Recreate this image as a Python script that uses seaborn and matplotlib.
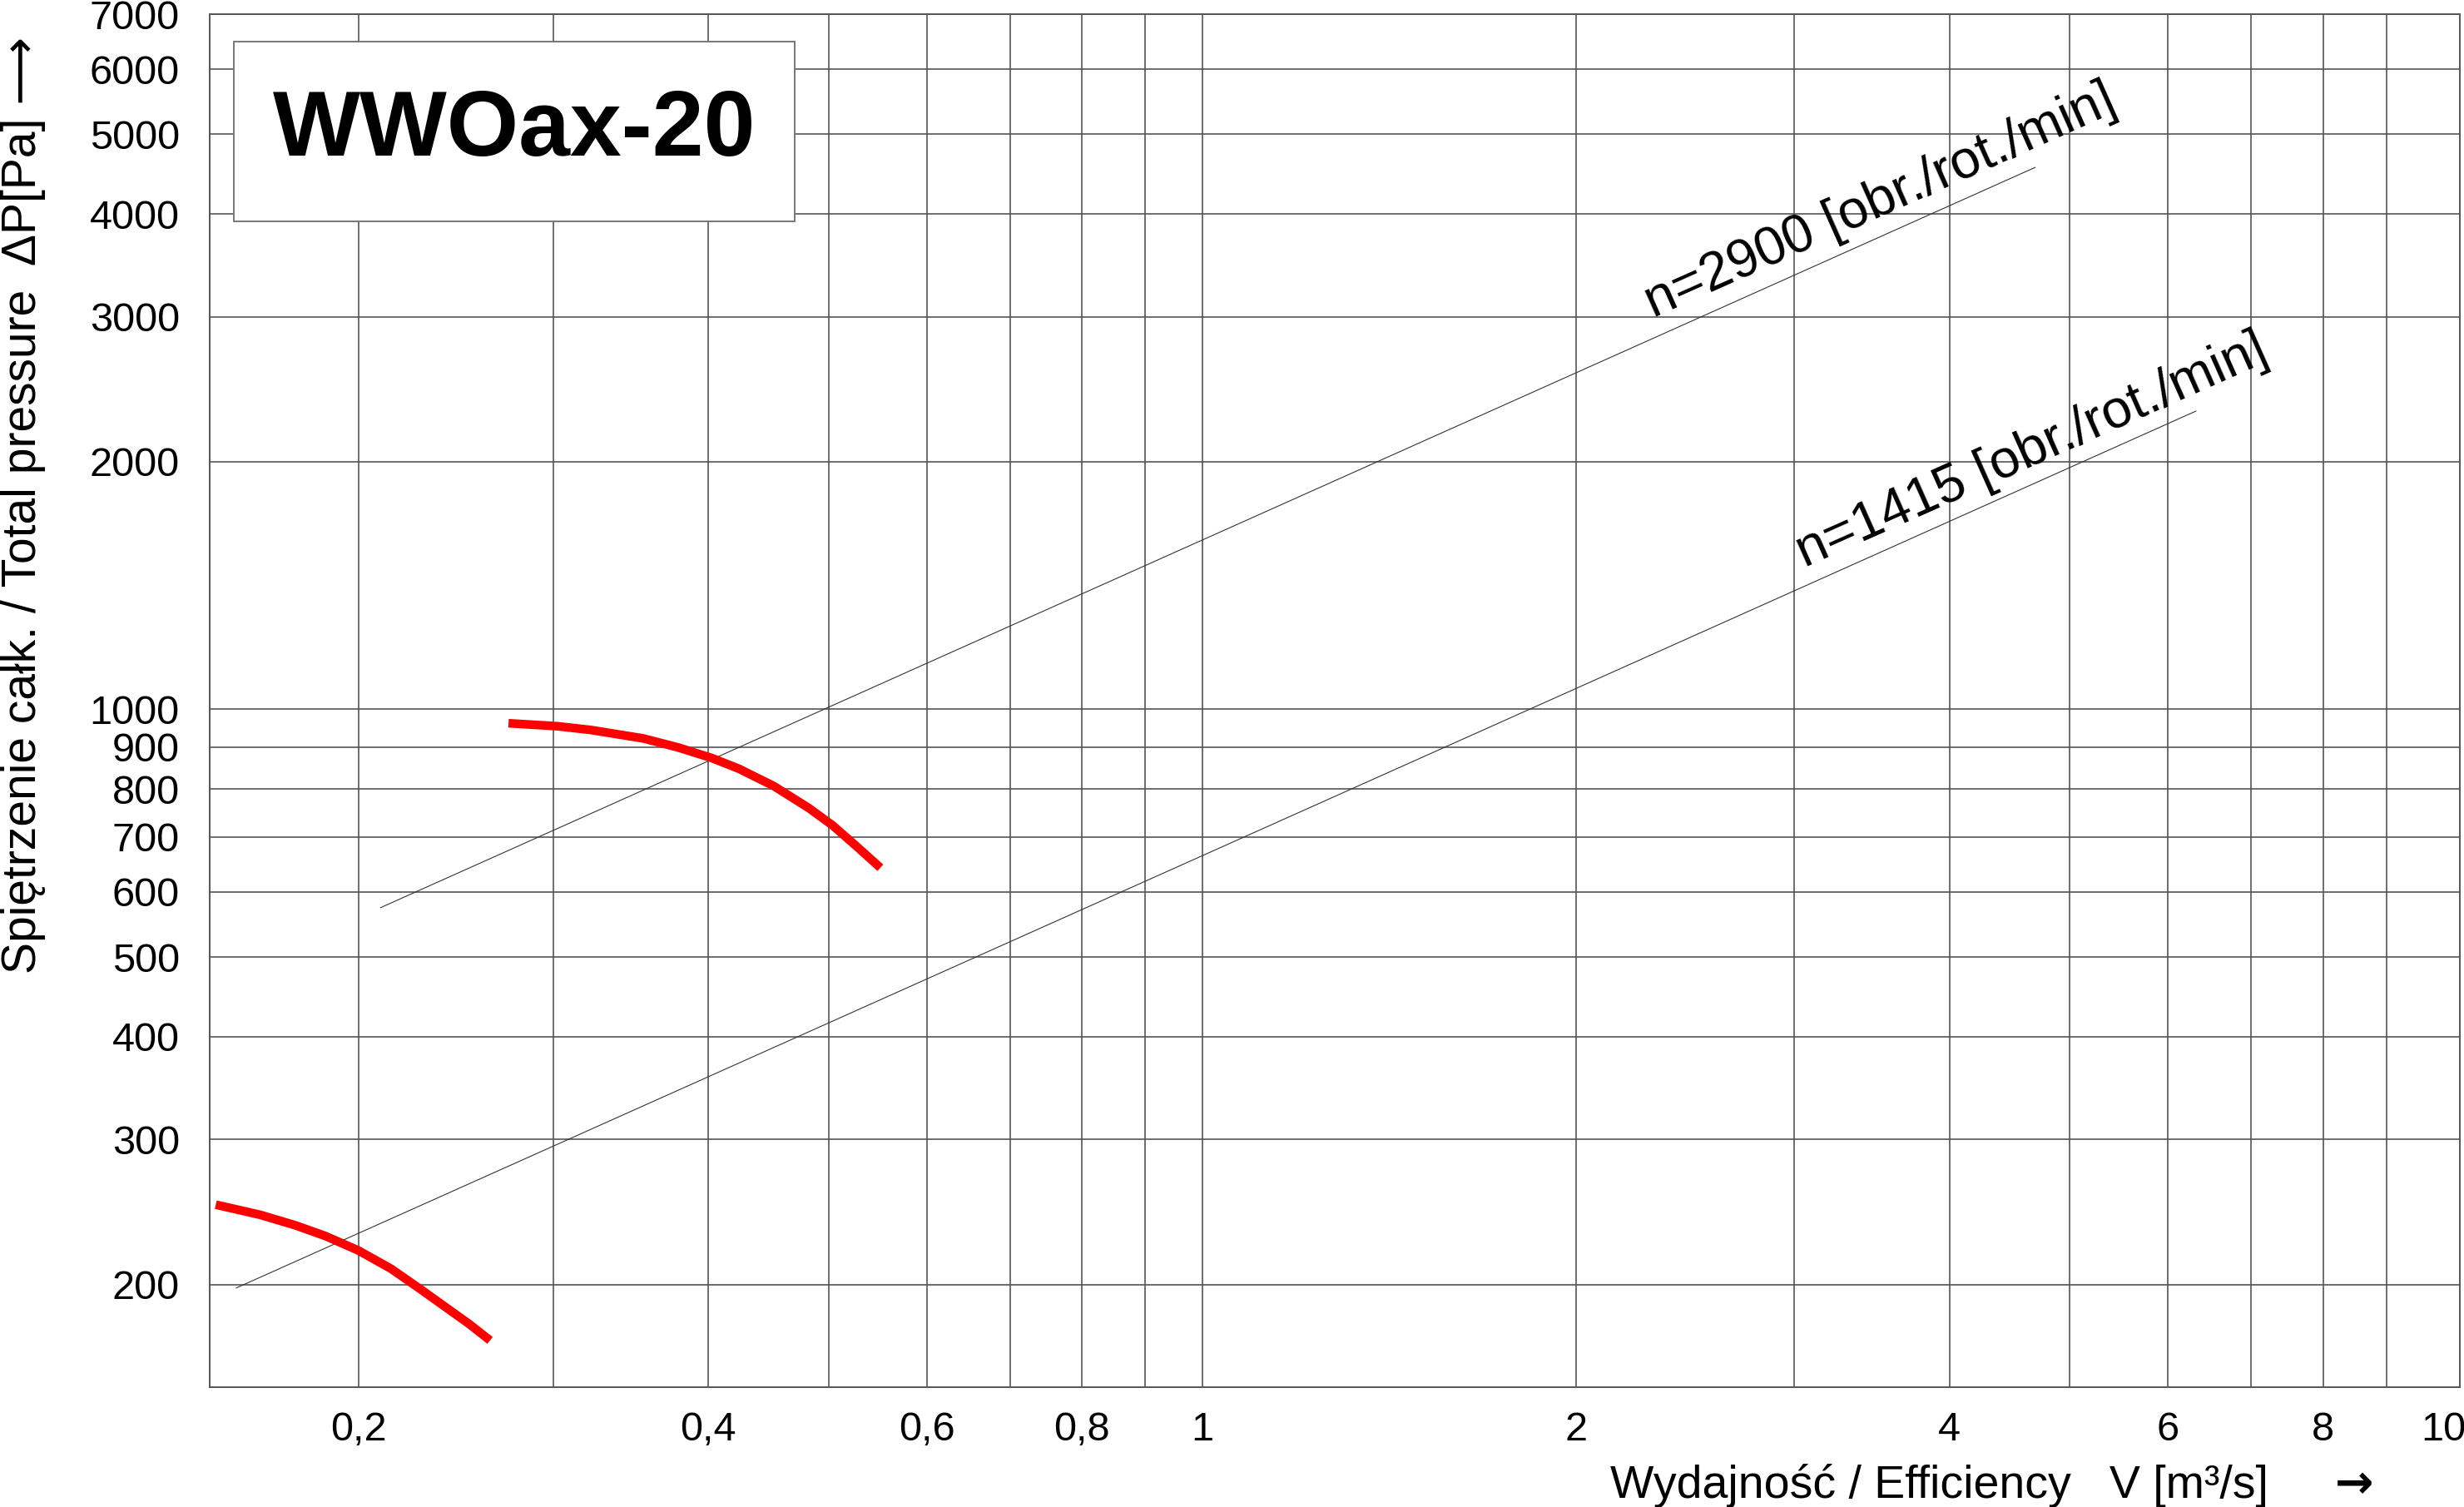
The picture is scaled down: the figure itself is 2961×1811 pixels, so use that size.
import pandas as pd
import seaborn as sns
import matplotlib.pyplot as plt
from matplotlib.patches import Rectangle
from matplotlib.ticker import FixedLocator, FixedFormatter, NullFormatter

sns.set_theme(style="white")
plt.rcParams['font.family'] = ['Liberation Sans', 'DejaVu Sans']
plt.rcParams['text.color'] = 'black'

# krzywe wentylatora
v_2900 = [0.2761, 0.3024, 0.3218, 0.3545, 0.3782, 0.4024, 0.4233, 0.4516,
          0.4818, 0.5036, 0.5264, 0.5504]
p_2900 = [962, 954, 944, 922, 899, 873, 847, 807, 759, 723, 682, 642]
v_1415 = [0.1604, 0.1742, 0.1859, 0.1966, 0.2089, 0.2220, 0.2349, 0.2465,
          0.2567, 0.2668]
p_1415 = [250, 243, 236, 229, 220, 209, 197, 187, 179, 171]

# cienkie linie z opisem obrotow
v_line_2900 = [0.2177, 4.69]
p_line_2900 = [574, 4559]
v_line_1415 = [0.1666, 6.32]
p_line_1415 = [198, 2305]

label_2900 = "n=2900 [obr./rot./min]"
label_1415 = "n=1415 [obr./rot./min]"

# linia "0,2" na oryginale lezy troche w prawo od 0.2
x_major = [0.209, 0.4, 0.6, 0.8, 1, 2, 4, 6, 8, 10]
x_labels = ["0,2", "0,4", "0,6", "0,8", "1", "2", "4", "6", "8", "10"]
x_minor = [0.3, 0.5, 0.7, 0.9, 3, 5, 7, 9]
y_ticks = [200, 300, 400, 500, 600, 700, 800, 900,
           1000, 2000, 3000, 4000, 5000, 6000, 7000]

curves = pd.DataFrame({
    "V": v_2900 + v_1415,
    "dP": p_2900 + p_1415,
    "n": ["2900"] * len(v_2900) + ["1415"] * len(v_1415),
})

fig = plt.figure(figsize=(29.61, 18.11), dpi=100)
ax = fig.add_axes([0.0851, 0.0795, 0.9132, 0.9111])

grid_col = "#555555"

sns.lineplot(x=v_line_2900, y=p_line_2900, color="#333333", linewidth=0.8,
             sort=False, estimator=None, ax=ax, zorder=4)
sns.lineplot(x=v_line_1415, y=p_line_1415, color="#333333", linewidth=0.8,
             sort=False, estimator=None, ax=ax, zorder=4)
sns.lineplot(data=curves, x="V", y="dP", units="n", estimator=None, sort=False,
             color="#ff0000", linewidth=7.5, ax=ax, zorder=5,
             solid_capstyle="butt", solid_joinstyle="round", legend=False)

ax.set_xscale("log")
ax.set_yscale("log")
ax.set_xlim(0.1586, 10.31)
ax.set_ylim(150, 7000)

ax.xaxis.set_major_locator(FixedLocator(x_major))
ax.xaxis.set_major_formatter(FixedFormatter(x_labels))
ax.xaxis.set_minor_locator(FixedLocator(x_minor))
ax.xaxis.set_minor_formatter(NullFormatter())
ax.yaxis.set_major_locator(FixedLocator(y_ticks))
ax.yaxis.set_major_formatter(FixedFormatter([str(t) for t in y_ticks]))
ax.yaxis.set_minor_locator(FixedLocator([]))

ax.grid(True, which="both", color=grid_col, linewidth=1.2)
ax.set_axisbelow(True)
ax.tick_params(axis="both", which="both", length=0, labelsize=35, colors="black")
ax.tick_params(axis="x", pad=21)
ax.tick_params(axis="y", pad=26)
# linia dla 10 pokrywa sie z prawa krawedzia
ax.xaxis.get_major_ticks()[-1].gridline.set_visible(False)
for s in ax.spines.values():
    s.set_color(grid_col)
    s.set_linewidth(1.4)

ax.set_xlabel("")
ax.set_ylabel("")

# ramka z nazwa typu
ax.add_patch(Rectangle((0.0107, 0.849), 0.2493, 0.131, transform=ax.transAxes,
                       facecolor="white", edgecolor="#777777", linewidth=1.4,
                       zorder=6))
ax.text(0.1353, 0.9145, "WWOax-20", transform=ax.transAxes, ha="center",
        va="center", fontsize=80, fontweight="bold", color="black", zorder=7)

# opisy linii obrotow
ax.text(2.31, 2990, label_2900, rotation=24, rotation_mode="anchor",
        ha="left", va="baseline", fontsize=46.5, color="black", zorder=7)
ax.text(3.06, 1487, label_1415, rotation=24, rotation_mode="anchor",
        ha="left", va="baseline", fontsize=46.5, color="black", zorder=7)

fig.text(0.0096, 0.6650, "Spiętrzenie całk. / Total pressure  ΔP[Pa] ⟶",
         rotation=90, ha="center", va="center", fontsize=41, color="black")
fig.text(0.6534, 0.006, "Wydajność / Efficiency   V [m³/s]",
         ha="left", va="baseline", fontsize=40, color="black")
fig.text(0.9475, 0.006, "→", ha="left", va="baseline", fontsize=40,
         fontweight="bold", family=["DejaVu Sans"], color="black")

fig.savefig("out.png", dpi=100)
